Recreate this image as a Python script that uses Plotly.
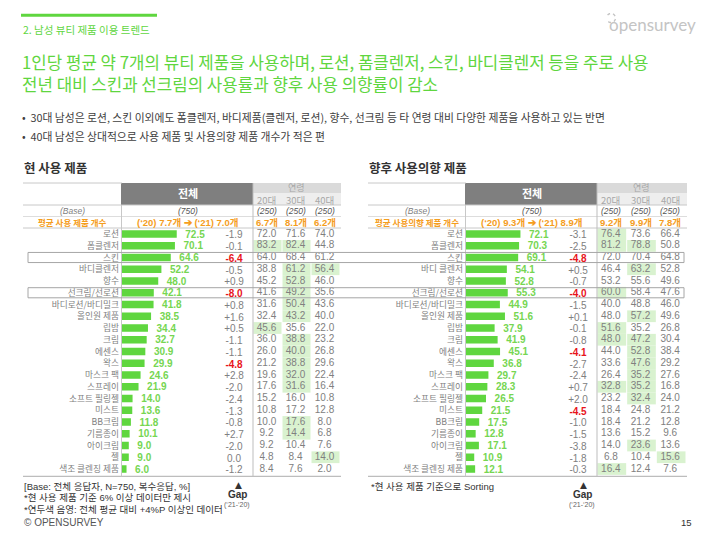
import math
import plotly.graph_objects as go

# ---------------- data ----------------
current_items = ["로션", "폼클렌저", "스킨", "바디클렌저", "향수", "선크림/선로션", "바디로션/바디밀크",
                 "올인원 제품", "립밤", "크림", "에센스", "왁스", "마스크 팩", "스프레이", "소프트 필링젤",
                 "미스트", "BB크림", "기름종이", "아이크림", "젤", "색조 클렌징 제품"]
current_total = [72.5, 70.1, 64.6, 52.2, 48.0, 42.1, 41.8, 38.5, 34.4, 32.7, 30.9, 29.9, 24.6, 21.9,
                 14.0, 13.6, 11.8, 10.1, 9.0, 9.0, 6.0]
current_gap = [-1.9, -0.1, -6.4, -0.5, 0.9, -8.0, 0.8, 1.6, 0.5, -1.1, -1.1, -4.8, 2.8, -2.0,
               -2.4, -1.3, -0.8, 2.7, -2.0, 0.0, -1.2]
current_20s = [72.0, 83.2, 64.0, 38.8, 45.2, 41.6, 31.6, 32.4, 45.6, 36.0, 26.0, 21.2, 19.6, 17.6,
               15.2, 10.8, 10.0, 9.2, 9.2, 4.8, 8.4]
current_30s = [71.6, 82.4, 68.4, 61.2, 52.8, 49.2, 50.4, 43.2, 35.6, 38.8, 40.0, 38.8, 32.0, 31.6,
               16.0, 17.2, 17.6, 14.4, 10.4, 8.4, 7.6]
current_40s = [74.0, 44.8, 61.2, 56.4, 46.0, 35.6, 43.6, 40.0, 22.0, 23.2, 26.8, 29.6, 22.4, 16.4,
               10.8, 12.8, 8.0, 6.8, 7.6, 14.0, 2.0]
current_avg_label = "평균 사용 제품 개수"
current_avg_total = "(‘20) 7.7개 ➔ (‘21) 7.0개"
current_avg_age = ["6.7개", "8.1개", "6.2개"]

future_items = ["로션", "폼클렌저", "스킨", "바디 클렌저", "향수", "선크림/선로션", "바디로션/바디밀크",
                "올인원 제품", "립밤", "크림", "에센스", "왁스", "마스크 팩", "스프레이", "소프트 필링젤",
                "미스트", "BB크림", "기름종이", "아이크림", "젤", "색조 클렌징 제품"]
future_total = [72.1, 70.3, 69.1, 54.1, 52.8, 55.3, 44.9, 51.6, 37.9, 41.9, 45.1, 36.8, 29.7, 28.3,
                26.5, 21.5, 17.5, 12.8, 17.1, 10.9, 12.1]
future_gap = [-3.1, -2.5, -4.8, 0.5, -0.7, -4.0, -1.5, 0.1, -0.1, -0.8, -4.1, -2.7, -2.4, 0.7,
              2.0, -4.5, -1.0, -1.5, -3.8, -1.8, -0.3]
future_20s = [76.4, 81.2, 72.0, 46.4, 53.2, 60.0, 40.0, 48.0, 51.6, 48.0, 44.0, 33.6, 26.4, 32.8,
              23.2, 18.4, 18.4, 13.6, 14.0, 6.8, 16.4]
future_30s = [73.6, 78.8, 70.4, 63.2, 55.6, 58.4, 48.8, 57.2, 35.2, 47.2, 52.8, 47.6, 35.2, 35.2,
              32.4, 24.8, 21.2, 15.2, 23.6, 10.4, 12.4]
future_40s = [66.4, 50.8, 64.8, 52.8, 49.6, 47.6, 46.0, 49.6, 26.8, 30.4, 38.4, 29.2, 27.6, 16.8,
              24.0, 21.2, 12.8, 9.6, 13.6, 15.6, 7.6]
future_avg_label = "평균 사용의향 제품 개수"
future_avg_total = "(‘20) 9.3개 ➔ (‘21) 8.9개"
future_avg_age = ["9.2개", "9.9개", "7.8개"]

age_labels = ["20대", "30대", "40대"]
base_total = "(750)"
base_age = "(250)"
boxed_items = ["스킨", "선크림/선로션"]

# ---------------- layout helpers ----------------
W, H = 712, 534
FONT = "Liberation Sans, Noto Sans CJK KR, sans-serif"
KFONT = "Noto Sans CJK KR, sans-serif"
GREEN = "#5fd63f"
LGREEN = "#76d652"
ORANGE = "#f59d1d"
LINE = "#c8c8c8"
HILITE = "#d9f2cf"


def px(x):
    return x / W


def py(y):
    return 1 - y / H


ROW0, STEP = 234.0, 11.75
SCALE = 0.755  # px per percent
NROW = len(current_items)
Y_TOP = ROW0 - 0.5 * STEP
Y_BOT = ROW0 + (NROW - 0.5) * STEP

panels = [
    dict(items=current_items, total=current_total, gap=current_gap,
         ages=[current_20s, current_30s, current_40s], avg_label=current_avg_label,
         avg_total=current_avg_total, avg_age=current_avg_age,
         title="현 사용 제품", lab0=23, bar0=122, tot1=253, age1=340, gapx=234,
         xa="x", ya="y", xkey="xaxis", ykey="yaxis"),
    dict(items=future_items, total=future_total, gap=future_gap,
         ages=[future_20s, future_30s, future_40s], avg_label=future_avg_label,
         avg_total=future_avg_total, avg_age=future_avg_age,
         title="향후 사용의향 제품", lab0=368, bar0=466, tot1=597, age1=686, gapx=578,
         xa="x2", ya="y2", xkey="xaxis2", ykey="yaxis2"),
]

fig = go.Figure()
shapes = []
ann = []


def text(x, y, s, size=10, color="#333", anchor="center", yanchor="middle", family=FONT, **kw):
    ann.append(dict(x=px(x), y=py(y), xref="paper", yref="paper", text=s, showarrow=False,
                    xanchor=anchor, yanchor=yanchor, font=dict(size=size, color=color, family=family), **kw))


def hline(x0, x1, y, color=LINE, width=1):
    shapes.append(dict(type="line", xref="paper", yref="paper", x0=px(x0), x1=px(x1), y0=py(y), y1=py(y),
                       line=dict(color=color, width=width)))


def vline(x, y0, y1, color=LINE, width=1):
    shapes.append(dict(type="line", xref="paper", yref="paper", x0=px(x), x1=px(x), y0=py(y0), y1=py(y1),
                       line=dict(color=color, width=width)))


def rect(x0, x1, y0, y1, fill, line_w=0):
    shapes.append(dict(type="rect", xref="paper", yref="paper", x0=px(x0), x1=px(x1), y0=py(y1), y1=py(y0),
                       fillcolor=fill, line=dict(width=line_w), layer="below"))


for p in panels:
    lab0, bar0, tot1, age1 = p["lab0"], p["bar0"], p["tot1"], p["age1"]
    colw = (age1 - tot1) / 3.0

    def u(xp, bar0=bar0):
        return (xp - bar0) / SCALE

    age_cx = [tot1 + colw * (k + 0.5) - 1 for k in range(3)]

    # header
    rect(bar0 - 1, tot1, 183, 205, "#7f7f7f")
    rect(tot1, age1 + 1, 183, 193, "#dadada")
    rect(tot1, age1 + 1, 193, 205, "#eeeeee")
    text((bar0 + tot1) / 2, 193, "<b>전체</b>", size=11, color="white", family=KFONT)
    text((tot1 + age1) / 2, 187.5, "연령", size=9, color="#a8a8a8", family=KFONT)
    for k in range(3):
        text(age_cx[k], 199.5, age_labels[k], size=9.5, color="#a8a8a8", family=KFONT)
    hline(lab0, bar0, 183)
    hline(lab0, age1 + 1, 205)
    hline(lab0, age1 + 1, 216.5, color="#dddddd")
    hline(lab0, age1 + 1, 228)
    hline(lab0, age1 + 1, Y_BOT + 1.5, color="#bdbdbd", width=1.2)
    vline(bar0 - 0.5, 205, Y_BOT + 1.5)
    vline(tot1, 183, Y_BOT + 1.5, color="#bdbdbd")

    # base / average rows
    text((lab0 + bar0) / 2, 211, "<i>(Base)</i>", size=8.5, color="#7f7f7f")
    text((bar0 + tot1) / 2, 211, "<i>" + base_total + "</i>", size=8.5, color="#555")
    for k in range(3):
        text(age_cx[k], 211, "<i>" + base_age + "</i>", size=8.5, color="#555")
    text((lab0 + bar0) / 2, 222.3, "<b>" + p["avg_label"] + "</b>", size=8.5, color=ORANGE, family=KFONT)
    text((bar0 + tot1) / 2, 222.3, "<b>" + p["avg_total"] + "</b>", size=9.5, color=ORANGE)
    for k in range(3):
        text(age_cx[k], 222.3, "<b>" + p["avg_age"][k] + "</b>", size=9.5, color=ORANGE)

    # section title
    text(lab0 - 1, 167, "<b>" + p["title"] + "</b>", size=12.5, color="#333", anchor="left", family=KFONT)

    # highlight cells (+4%P above total)
    for k in range(3):
        for i, v in enumerate(p["ages"][k]):
            if v - p["total"][i] >= 4.0 - 1e-9:
                shapes.append(dict(type="rect", xref=p["xa"], yref=p["ya"],
                                   x0=u(tot1 + colw * k + 0.5), x1=u(tot1 + colw * (k + 1) - 0.5),
                                   y0=i - 0.5, y1=i + 0.5, fillcolor=HILITE, line=dict(width=0),
                                   layer="below"))

    # bars
    fig.add_trace(go.Bar(
        x=p["total"], y=list(range(NROW)), orientation="h", marker=dict(color=GREEN, line=dict(width=0)),
        text=["\u00a0\u00a0" + f"{v:.1f}" for v in p["total"]], textposition="outside",
        textfont=dict(color=LGREEN, size=10, family=FONT, weight="bold"),
        constraintext="none", cliponaxis=False, xaxis=p["xa"], yaxis=p["ya"],
        hoverinfo="skip", showlegend=False))

    # gap column
    gtxt = []
    gcol = []
    for g in p["gap"]:
        s = "0.0" if abs(g) < 1e-9 else f"{g:+.1f}"
        if g <= -4.0 + 1e-9:
            gtxt.append("<b>" + s + "</b>")
            gcol.append("#e8141b")
        else:
            gtxt.append(s)
            gcol.append("#808080")
    fig.add_trace(go.Scatter(
        x=[u(p["gapx"])] * NROW, y=[i + 0.15 for i in range(NROW)], mode="text", text=gtxt,
        textfont=dict(color=gcol, size=10, family=FONT), textposition="middle center",
        xaxis=p["xa"], yaxis=p["ya"], hoverinfo="skip", showlegend=False, cliponaxis=False))

    # age columns
    for k in range(3):
        fig.add_trace(go.Scatter(
            x=[u(age_cx[k])] * NROW, y=list(range(NROW)), mode="text",
            text=[f"{v:.1f}" for v in p["ages"][k]],
            textfont=dict(color="#808080", size=10, family=FONT), textposition="middle center",
            xaxis=p["xa"], yaxis=p["ya"], hoverinfo="skip", showlegend=False, cliponaxis=False))

    # axes
    fig.update_layout(**{
        p["xkey"]: dict(domain=[px(bar0), px(age1)], range=[0, (age1 - bar0) / SCALE],
                        anchor=p["ya"], visible=False, fixedrange=True),
        p["ykey"]: dict(domain=[py(Y_BOT), py(Y_TOP)], range=[NROW - 0.5, -0.5], anchor=p["xa"],
                        tickmode="array", tickvals=list(range(NROW)), ticktext=p["items"],
                        tickfont=dict(size=8.7, color="#7f7f7f", family=KFONT),
                        showgrid=False, zeroline=False, showline=False, ticks="",
                        ticklabelstandoff=2, fixedrange=True),
    })

# boxes around notable rows (spanning both tables)
for name in boxed_items:
    i = current_items.index(name)
    shapes.append(dict(type="rect", xref="paper", yref="y", x0=px(28), x1=px(684),
                       y0=i - 0.43, y1=i + 0.43, line=dict(color="#a6a6a6", width=1),
                       fillcolor="rgba(0,0,0,0)", layer="above"))

# ---------------- slide decorations ----------------
hline(21, 157, 15.3, color=GREEN, width=3)
text(21, 29, "2. 남성 뷰티 제품 이용 트렌드", size=10.5, color=GREEN, anchor="left", family=KFONT)
text(20, 62, "1인당 평균 약 7개의 뷰티 제품을 사용하며, 로션, 폼클렌저, 스킨, 바디클렌저 등을 주로 사용",
     size=16.8, color=GREEN, anchor="left", family=KFONT)
text(20, 84, "전년 대비 스킨과 선크림의 사용률과 향후 사용 의향률이 감소",
     size=16.8, color=GREEN, anchor="left", family=KFONT)
text(20, 117, "•  30대 남성은 로션, 스킨 이외에도 폼클렌저, 바디제품(클렌저, 로션), 향수, 선크림 등 타 연령 대비 다양한 제품을 사용하고 있는 반면",
     size=10.8, color="#404040", anchor="left", family=KFONT)
text(20, 136, "•  40대 남성은 상대적으로 사용 제품 및 사용의향 제품 개수가 적은 편",
     size=10.8, color="#404040", anchor="left", family=KFONT)

# logo
text(698, 24, "opensurvey", size=17, color="#c4c4c4", anchor="right", family="Lato, Noto Sans, sans-serif")
cx, cy, r = 611, 18, 4.5
pts = []
for a in range(40, 321, 10):
    t = math.radians(a)
    pts.append((px(cx + r * math.cos(t + math.pi)), py(cy + r * math.sin(t + math.pi))))
path = "M " + " L ".join(f"{x:.5f},{y:.5f}" for x, y in pts)
shapes.append(dict(type="path", xref="paper", yref="paper", path=path,
                   line=dict(color="#c4c4c4", width=1.4, dash="dot")))

# footnotes
text(22, 486, "[Base: 전체 응답자, N=750, 복수응답, %]", size=9.5, color="#333", anchor="left")
text(22, 497.5, "*현 사용 제품 기준 6% 이상 데이터만 제시", size=9.5, color="#333", anchor="left")
text(22, 509, "*연두색 음영: 전체 평균 대비 +4%P 이상인 데이터", size=9.5, color="#333", anchor="left")
text(22, 522, "© OPENSURVEY", size=10, color="#555", anchor="left")
text(369, 486, "*현 사용 제품 기준으로 Sorting", size=9.5, color="#333", anchor="left")
for gx in (238, 583):
    text(gx, 484.5, "▲", size=9, color="#333", family="DejaVu Sans")
    text(gx - 1, 494.5, "<b>Gap</b>", size=10, color="#333")
    text(gx - 1, 504.5, "(‘21-‘20)", size=7, color="#666")
text(686, 522, "15", size=9.5, color="#333")

fig.update_layout(
    width=W, height=H, margin=dict(l=0, r=0, t=0, b=0),
    paper_bgcolor="white", plot_bgcolor="rgba(0,0,0,0)",
    bargap=0.36, shapes=shapes, annotations=ann, showlegend=False,
    font=dict(family=FONT),
)

fig.write_html("out.html", config={"displayModeBar": False},
               post_script="document.body.style.margin='0';document.body.style.padding='0';")
